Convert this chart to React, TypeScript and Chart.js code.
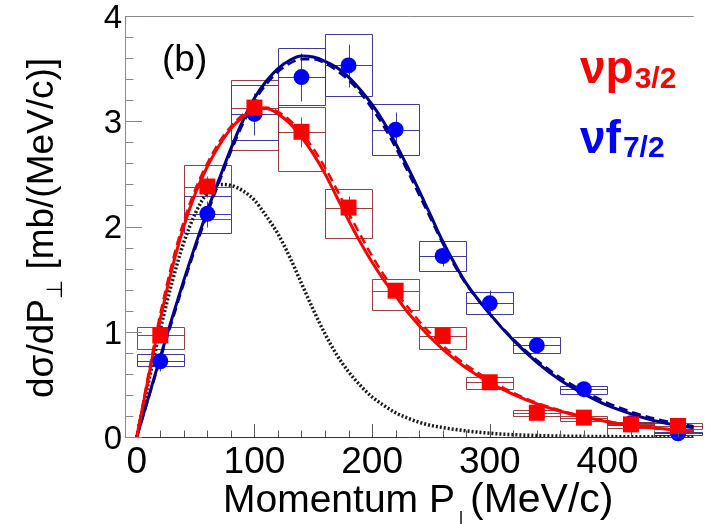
import { useEffect, useRef } from 'react';
import { Chart, registerables } from 'chart.js';

Chart.register(...registerables);

// ---------------- data ----------------
const binCenters = [20, 60, 100, 140, 180, 220, 260, 300, 340, 380, 420, 460];
const binHalfWidth = 20;

// nu p3/2 (red squares)
const p32Values = [0.965, 2.38, 3.13, 2.9, 2.18, 1.39, 0.96, 0.52, 0.23, 0.184, 0.12, 0.105];
const p32StatErr = [0.06, 0.1, 0.1, 0.14, 0.11, 0.07, 0.05, 0.04, 0.03, 0.02, 0.02, 0.02];
const p32SysLow = [0.84, 2.07, 2.73, 2.53, 1.89, 1.21, 0.84, 0.454, 0.2, 0.155, 0.083, 0.08];
const p32SysHigh = [1.045, 2.58, 3.39, 3.14, 2.36, 1.5, 1.045, 0.574, 0.254, 0.203, 0.146, 0.13];

// nu f7/2 (blue circles)
const f72Values = [0.72, 2.12, 3.07, 3.42, 3.53, 2.92, 1.72, 1.27, 0.87, 0.454, 0.13, 0.035];
const f72StatErr = [0.09, 0.12, 0.2, 0.23, 0.2, 0.17, 0.1, 0.13, 0.06, 0.04, 0.03, 0.03];
const f72SysLow = [0.67, 1.94, 2.82, 3.15, 3.24, 2.68, 1.58, 1.17, 0.8, 0.41, 0.11, 0.02];
const f72SysHigh = [0.79, 2.29, 3.34, 3.7, 3.83, 3.16, 1.86, 1.38, 0.946, 0.486, 0.145, 0.05];

// theory curves
const curveX = [0, 10, 20, 30, 40, 50, 60, 70, 80, 90, 100, 110, 120, 130, 140, 150, 160, 170, 180, 190, 200, 210, 220, 230, 240, 250, 260, 270, 280, 300, 320, 340, 360, 380, 400, 420, 440, 460, 475];
const p32Fit = [0, 0.57, 1.12, 1.6, 2.0, 2.32, 2.57, 2.77, 2.93, 3.04, 3.11, 3.12, 3.07, 2.98, 2.85, 2.69, 2.5, 2.28, 2.06, 1.85, 1.66, 1.49, 1.34, 1.19, 1.06, 0.94, 0.835, 0.74, 0.655, 0.515, 0.405, 0.315, 0.245, 0.19, 0.145, 0.11, 0.085, 0.065, 0.053];
const p32FitDashed = [0, 0.6, 1.17, 1.65, 2.05, 2.36, 2.6, 2.8, 2.95, 3.06, 3.12, 3.13, 3.09, 3.01, 2.89, 2.74, 2.56, 2.35, 2.13, 1.92, 1.72, 1.54, 1.38, 1.24, 1.1, 0.98, 0.87, 0.77, 0.685, 0.54, 0.42, 0.325, 0.252, 0.195, 0.149, 0.113, 0.087, 0.067, 0.055];
const f72Fit = [0, 0.38, 0.76, 1.13, 1.49, 1.83, 2.15, 2.45, 2.74, 3.0, 3.22, 3.38, 3.5, 3.58, 3.62, 3.61, 3.57, 3.51, 3.42, 3.3, 3.16, 2.99, 2.79, 2.57, 2.34, 2.1, 1.86, 1.65, 1.46, 1.17, 0.92, 0.71, 0.54, 0.41, 0.3, 0.22, 0.155, 0.11, 0.085];
const f72FitDashed = [0, 0.37, 0.74, 1.1, 1.46, 1.8, 2.12, 2.42, 2.71, 2.97, 3.19, 3.35, 3.47, 3.55, 3.59, 3.59, 3.55, 3.48, 3.39, 3.27, 3.12, 2.95, 2.75, 2.53, 2.3, 2.07, 1.84, 1.63, 1.45, 1.17, 0.93, 0.73, 0.565, 0.435, 0.325, 0.24, 0.175, 0.128, 0.1];
const dottedCurve = [0, 0.52, 1.02, 1.47, 1.85, 2.13, 2.32, 2.4, 2.39, 2.34, 2.25, 2.1, 1.93, 1.71, 1.46, 1.21, 0.98, 0.78, 0.62, 0.49, 0.38, 0.3, 0.23, 0.18, 0.14, 0.11, 0.09, 0.072, 0.058, 0.036, 0.022, 0.014, 0.009, 0.006, 0.004, 0.003, 0.002, 0.001, 0.001];

// axes
const xMin = -10;
const xMax = 473.33;
const yMin = 0;
const yMax = 4;
const xTicks = [0, 100, 200, 300, 400];
const xTickLabels = ['0', '100', '200', '300', '400'];
const xMinorStep = 20;
const yTicks = [0, 1, 2, 3, 4];
const yTickLabels = ['0', '1', '2', '3', '4'];
const yMinorStep = 0.2;

const FONT = '"Liberation Sans", Arial, Helvetica, sans-serif';
const RED = '#ff0000';
const BLUE = '#0000ff';
const NAVY = '#00008c';
const RED_BOX = 'rgba(150,40,40,0.9)';
const BLUE_BOX = 'rgba(40,40,150,0.9)';

function px(v: number) {
  return Math.round(v) + 0.5;
}

function drawSys(ctx: CanvasRenderingContext2D, xs: any, ys: any, vals: number[], stat: number[], lo: number[], hi: number[], color: string) {
  ctx.strokeStyle = color;
  ctx.lineWidth = 1;
  for (let i = 0; i < binCenters.length; i++) {
    const c = binCenters[i];
    const x0 = px(xs.getPixelForValue(c - binHalfWidth));
    const x1 = px(xs.getPixelForValue(c + binHalfWidth));
    const xc = px(xs.getPixelForValue(c));
    const yl = px(ys.getPixelForValue(lo[i]));
    const yh = px(ys.getPixelForValue(hi[i]));
    const yv = px(ys.getPixelForValue(vals[i]));
    ctx.beginPath();
    ctx.rect(x0, yh, x1 - x0, yl - yh);
    ctx.moveTo(x0, yv);
    ctx.lineTo(x1, yv);
    ctx.moveTo(xc, px(ys.getPixelForValue(vals[i] - stat[i])));
    ctx.lineTo(xc, px(ys.getPixelForValue(vals[i] + stat[i])));
    ctx.stroke();
  }
}

const rootStyle = {
  id: 'rootStyle',
  beforeDatasetsDraw(chart: any) {
    const { ctx, scales } = chart;
    ctx.save();
    drawSys(ctx, scales.x, scales.y, f72Values, f72StatErr, f72SysLow, f72SysHigh, BLUE_BOX);
    drawSys(ctx, scales.x, scales.y, p32Values, p32StatErr, p32SysLow, p32SysHigh, RED_BOX);
    ctx.restore();
  },
  afterDraw(chart: any) {
    const { ctx, chartArea, scales } = chart;
    const xs = scales.x;
    const ys = scales.y;
    const L = chartArea.left;
    const R = chartArea.right;
    const T = chartArea.top;
    const B = chartArea.bottom;
    ctx.save();
    ctx.lineWidth = 1;
    // frame
    ctx.strokeStyle = '#8a8a8a';
    ctx.beginPath();
    ctx.moveTo(L, px(T));
    ctx.lineTo(R, px(T));
    ctx.moveTo(px(L), T);
    ctx.lineTo(px(L), B);
    ctx.stroke();
    ctx.strokeStyle = '#333';
    ctx.beginPath();
    ctx.moveTo(L, px(B));
    ctx.lineTo(R, px(B));
    ctx.stroke();
    // y ticks
    ctx.strokeStyle = '#888';
    ctx.beginPath();
    for (let v = yMin; v <= yMax + 1e-6; v += yMinorStep) {
      const yy = px(ys.getPixelForValue(v));
      const major = yTicks.some((t) => Math.abs(t - v) < 1e-6);
      ctx.moveTo(L, yy);
      ctx.lineTo(L + (major ? 17 : 8.5), yy);
    }
    ctx.stroke();
    // x ticks
    ctx.strokeStyle = '#555';
    ctx.beginPath();
    for (let v = 0; v <= xMax; v += xMinorStep) {
      const xx = px(xs.getPixelForValue(v));
      const major = xTicks.some((t) => Math.abs(t - v) < 1e-6);
      ctx.moveTo(xx, B);
      ctx.lineTo(xx, B - (major ? 13 : 6.5));
    }
    ctx.stroke();

    ctx.fillStyle = '#000';
    // y tick labels
    ctx.font = `33px ${FONT}`;
    ctx.textAlign = 'right';
    ctx.textBaseline = 'alphabetic';
    yTicks.forEach((t, i) => {
      ctx.fillText(yTickLabels[i], L - 3, ys.getPixelForValue(t) + 11.8);
    });
    // x tick labels
    ctx.font = `37px ${FONT}`;
    ctx.textAlign = 'center';
    xTicks.forEach((t, i) => {
      ctx.fillText(xTickLabels[i], xs.getPixelForValue(t), 473);
    });

    // x title
    ctx.textAlign = 'left';
    ctx.font = `39px ${FONT}`;
    let cx = 223;
    const t1 = 'Momentum P';
    ctx.fillText(t1, cx, 512);
    cx += ctx.measureText(t1).width;
    ctx.font = `23px "DejaVu Sans", ${FONT}`;
    ctx.fillText('\u22A5', cx - 4, 527);
    ctx.font = `41px ${FONT}`;
    ctx.fillText('(MeV/c)', 470, 512);

    // y title (rotated)
    ctx.save();
    ctx.translate(53, 398);
    ctx.rotate(-Math.PI / 2);
    ctx.font = `37px ${FONT}`;
    let ry = 0;
    const y1 = 'd\u03C3/dP';
    ctx.fillText(y1, ry, 0);
    ry += ctx.measureText(y1).width;
    ctx.font = `22px "DejaVu Sans", ${FONT}`;
    ctx.fillText('\u22A5', ry, 9);
    ry += ctx.measureText('\u22A5').width;
    ctx.font = `37px ${FONT}`;
    ctx.fillText(' [mb/(MeV/c)]', ry, 0);
    ctx.restore();

    // panel label
    ctx.font = `37px ${FONT}`;
    ctx.fillStyle = '#000';
    ctx.fillText('(b)', 162, 71);

    // legend texts
    ctx.font = `bold 46px ${FONT}`;
    ctx.fillStyle = RED;
    ctx.fillText('\u03BDp', 580, 83);
    let w = ctx.measureText('\u03BDp').width;
    ctx.font = `bold 30px ${FONT}`;
    ctx.fillText('3/2', 580 + w + 1, 88);

    ctx.font = `bold 46px ${FONT}`;
    ctx.fillStyle = BLUE;
    ctx.fillText('\u03BDf', 580, 153);
    w = ctx.measureText('\u03BDf').width;
    ctx.font = `bold 30px ${FONT}`;
    ctx.fillText('7/2', 580 + w + 2, 157);

    ctx.restore();
  },
};

function pts(xs: number[], ys: number[]) {
  return xs.map((x, i) => ({ x, y: ys[i] }));
}

export default function App() {
  const ref = useRef<HTMLCanvasElement | null>(null);
  useEffect(() => {
    document.body.style.margin = '0';
    const canvas = ref.current;
    if (!canvas) return;
    const curve = (data: number[], color: string, width: number, dash: number[]) => ({
      type: 'line' as const,
      data: pts(curveX, data),
      showLine: true,
      borderColor: color,
      borderWidth: width,
      borderDash: dash,
      pointRadius: 0,
      fill: false,
      cubicInterpolationMode: 'monotone' as const,
    });
    const chart = new Chart(canvas, {
      type: 'scatter',
      data: {
        datasets: [
          {
            label: 'p3/2',
            data: pts(binCenters, p32Values),
            pointStyle: 'rect',
            pointRadius: 11.3,
            backgroundColor: RED,
            borderWidth: 0,
            clip: false,
          } as any,
          {
            label: 'f7/2',
            data: pts(binCenters, f72Values),
            pointStyle: 'circle',
            pointRadius: 8,
            backgroundColor: BLUE,
            borderWidth: 0,
            clip: false,
          },
          curve(p32FitDashed, RED, 2.5, [9, 5]),
          curve(p32Fit, RED, 3, []),
          curve(f72FitDashed, NAVY, 2.5, [9, 5]),
          curve(f72Fit, NAVY, 3, []),
          curve(dottedCurve, '#1a1a1a', 3.5, [2, 2]),
        ],
      },
      options: {
        animation: false,
        responsive: false,
        devicePixelRatio: 1,
        layout: { padding: { left: 125, top: 16, right: 0, bottom: 87 } },
        plugins: { legend: { display: false }, tooltip: { enabled: false } },
        scales: {
          x: { type: 'linear', min: xMin, max: xMax, display: false },
          y: { type: 'linear', min: yMin, max: yMax, display: false },
        },
      },
      plugins: [rootStyle],
    } as any);
    return () => chart.destroy();
  }, []);
  return (
    <div style={{ position: 'absolute', left: 0, top: 0, width: 705, height: 524 }}>
      <canvas ref={ref} width={705} height={524} />
    </div>
  );
}
